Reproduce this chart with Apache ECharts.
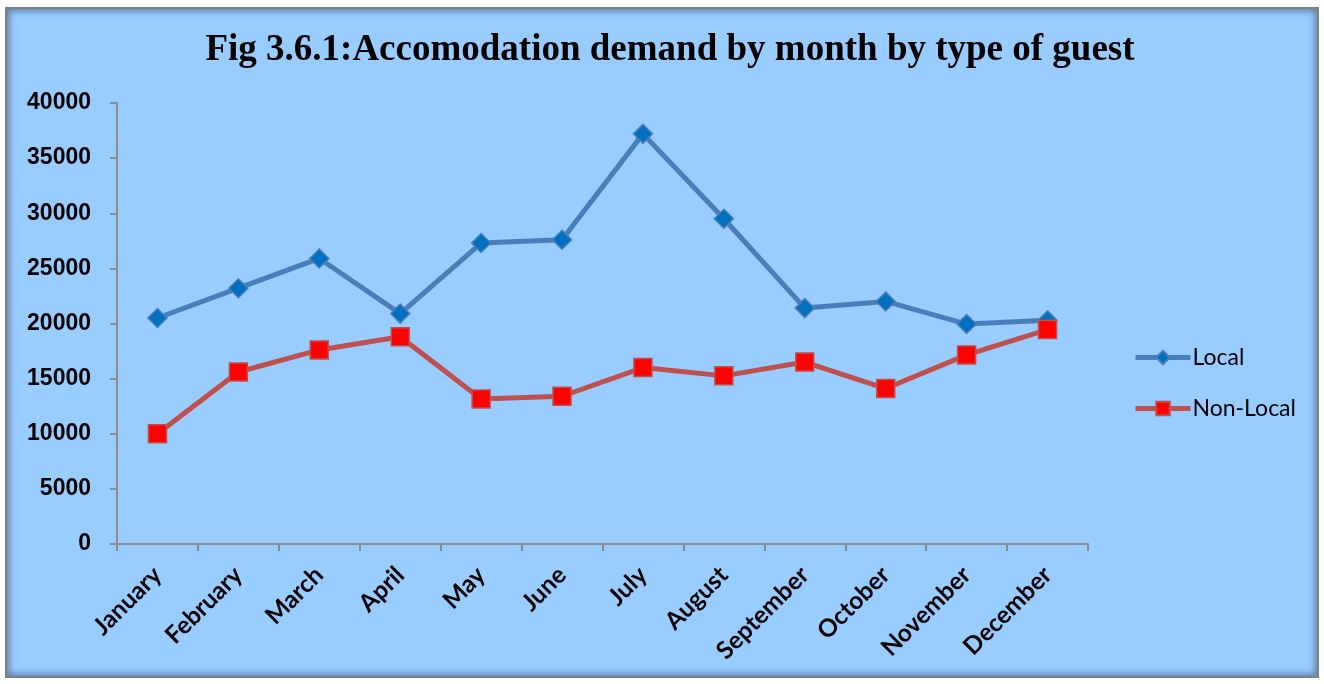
<!DOCTYPE html>
<html>
<head>
<meta charset="utf-8">
<script src="https://cdn.jsdelivr.net/npm/echarts@6/dist/echarts.min.js"></script>
<style>
  html, body { margin: 0; padding: 0; background: #fff; }
  #frame {
    position: absolute; left: 5px; top: 7px; width: 1310px; height: 667px;
    background: #99ccff; border: 2px solid #7f7f7f;
    box-shadow: inset 0 0 7px 2px rgba(40, 60, 90, 0.55);
  }
  #main { position: absolute; left: 0; top: 0; width: 1324px; height: 684px; }
</style>
</head>
<body>
<div id="frame"></div>
<div id="main"></div>
<script>
var months = ["January", "February", "March", "April", "May", "June",
  "July", "August", "September", "October", "November", "December"];
var localGuests = [20500, 23200, 25900, 20900, 27300, 27600, 37200, 29500, 21400, 22000, 19950, 20300];
var nonLocalGuests = [10000, 15600, 17600, 18800, 13150, 13400, 16000, 15250, 16500, 14100, 17150, 19450];
var yTicks = { min: 0, max: 40000, step: 5000 };

var chart = echarts.init(document.getElementById("main"));

var option = {
  backgroundColor: "transparent",
  animation: false,
  title: {
    text: "Fig 3.6.1:Accomodation demand by month by type of guest",
    left: 665,
    textAlign: "center",
    top: 27,
    textStyle: {
      fontFamily: "Liberation Serif",
      fontWeight: "bold",
      fontSize: 37,
      color: "#000"
    }
  },
  legend: {
    orient: "vertical",
    left: 1128,
    top: 341,
    itemWidth: 55,
    itemHeight: 17,
    itemGap: 28,
    lineStyle: { width: 5 },
    textStyle: { fontFamily: "Lato", fontSize: 23, color: "#000", padding: [0, 0, 0, -3] },
    data: ["Local", "Non-Local"]
  },
  grid: { left: 117, top: 103, right: 236, bottom: 140 },
  xAxis: {
    type: "category",
    data: months,
    boundaryGap: true,
    axisLine: { lineStyle: { color: "#8c8c8c", width: 2 } },
    axisTick: { show: true, interval: 0, length: 7, lineStyle: { color: "#8c8c8c", width: 2 } },
    axisLabel: {
      interval: 0,
      rotate: 45,
      margin: 27,
      fontFamily: "Lato",
      fontWeight: "bold",
      fontSize: 24.5,
      color: "#000"
    },
    splitLine: { show: false }
  },
  yAxis: {
    type: "value",
    min: yTicks.min,
    max: yTicks.max,
    interval: yTicks.step,
    axisLine: { show: true, lineStyle: { color: "#8c8c8c", width: 2 } },
    axisTick: { show: true, length: 7, lineStyle: { color: "#8c8c8c", width: 2 } },
    axisLabel: {
      margin: 26,
      formatter: function(v) { return String(v); },
      fontFamily: "Liberation Sans",
      fontWeight: "bold",
      fontSize: 23,
      color: "#000"
    },
    splitLine: { show: false }
  },
  series: [
    {
      name: "Local",
      type: "line",
      data: localGuests,
      symbol: "diamond",
      symbolSize: 19,
      lineStyle: { color: "#4a7ebb", width: 5 },
      itemStyle: { color: "#0070c0", borderColor: "#4a7ebb", borderWidth: 1.5 }
    },
    {
      name: "Non-Local",
      type: "line",
      data: nonLocalGuests,
      symbol: "rect",
      symbolSize: 18,
      lineStyle: { color: "#c0504d", width: 5 },
      itemStyle: { color: "#ff0000", borderColor: "#c0504d", borderWidth: 1.5 }
    }
  ]
};
chart.setOption(option);
window.onresize = function() {
  chart.resize();
};
</script>
</body>
</html>
